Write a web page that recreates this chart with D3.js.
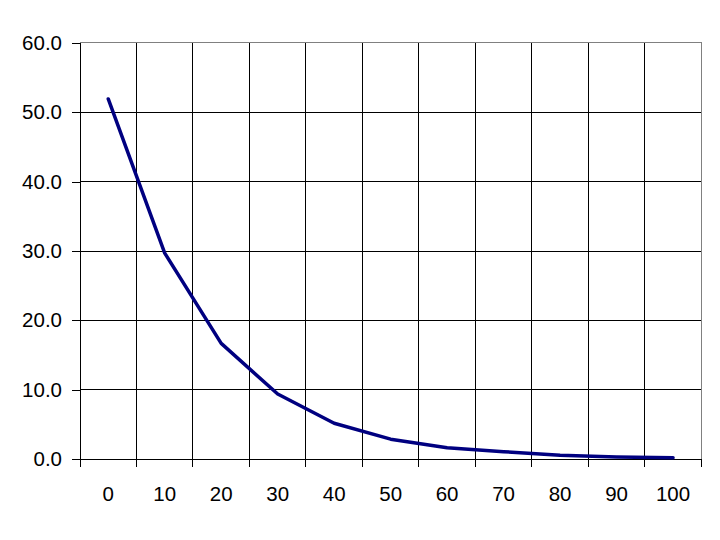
<!DOCTYPE html>
<html><head><meta charset="utf-8">
<script src="https://cdn.jsdelivr.net/npm/d3@7"></script>
<style>body{margin:0;background:#fff}svg{display:block}</style>
</head><body>
<svg id="c" width="720" height="540"></svg>
<script>
const categories = ["0","10","20","30","40","50","60","70","80","90","100"];
const values = [51.9, 29.7, 16.7, 9.4, 5.2, 2.9, 1.67, 1.1, 0.57, 0.33, 0.23];
const yTicks = [0,10,20,30,40,50,60];

const svg = d3.select("#c");
const L = 80, R = 701.3, T = 42.7, B = 459.3;
const x = d3.scaleBand().domain(categories).range([L, R]).paddingInner(0).paddingOuter(0);
const y = d3.scaleLinear().domain([0, 60]).range([B, T]);
const font = "'Liberation Sans', Arial, sans-serif";
const fs = 20.5;

// horizontal gridlines
svg.append("g").selectAll("line").data(yTicks.filter(d => d > 0 && d < 60)).join("line")
  .attr("x1", L).attr("x2", R).attr("y1", d => y(d)).attr("y2", d => y(d))
  .attr("stroke", "#000").attr("stroke-width", 1).attr("shape-rendering", "crispEdges");
// vertical gridlines at category boundaries
const bounds = categories.map(c => x(c)).slice(1);
svg.append("g").selectAll("line").data(bounds).join("line")
  .attr("x1", d => d).attr("x2", d => d).attr("y1", T).attr("y2", B)
  .attr("stroke", "#000").attr("stroke-width", 1).attr("shape-rendering", "crispEdges");
// top & right border (gray)
svg.append("path").attr("d", `M${L},${T}H${R}V${B}`).attr("fill", "none")
  .attr("stroke", "#808080").attr("stroke-width", 1).attr("shape-rendering", "crispEdges");

// y axis
const yAxis = d3.axisLeft(y).tickValues(yTicks).tickFormat(d3.format(".1f")).tickSizeOuter(0).tickSize(8).tickPadding(10);
const gy = svg.append("g").attr("transform", `translate(${L},0)`).call(yAxis);
gy.select(".domain").attr("stroke", "#000").attr("shape-rendering", "crispEdges");
gy.selectAll(".tick line").attr("stroke", "#000").attr("shape-rendering", "crispEdges");
gy.selectAll("text").attr("font-family", font).attr("font-size", fs).attr("fill", "#000");

// x axis: ticks at category boundaries, labels centered
const gx = svg.append("g").attr("transform", `translate(0,${B})`);
gx.append("line").attr("x1", L).attr("x2", R).attr("stroke", "#000").attr("shape-rendering", "crispEdges");
gx.selectAll("line.t").data([L, ...bounds, R]).join("line").attr("class", "t")
  .attr("x1", d => d).attr("x2", d => d).attr("y1", 0).attr("y2", 8)
  .attr("stroke", "#000").attr("shape-rendering", "crispEdges");
gx.selectAll("text").data(categories).join("text")
  .attr("x", d => x(d) + x.bandwidth() / 2).attr("y", 42)
  .attr("text-anchor", "middle").attr("font-family", font).attr("font-size", fs).attr("fill", "#000")
  .text(d => d);

// data line
const line = d3.line().x((d, i) => x(categories[i]) + x.bandwidth() / 2).y(d => y(d));
svg.append("path").datum(values).attr("d", line).attr("fill", "none")
  .attr("stroke", "#000080").attr("stroke-width", 3.5).attr("stroke-linejoin", "round").attr("stroke-linecap", "round");
</script>
</body></html>
